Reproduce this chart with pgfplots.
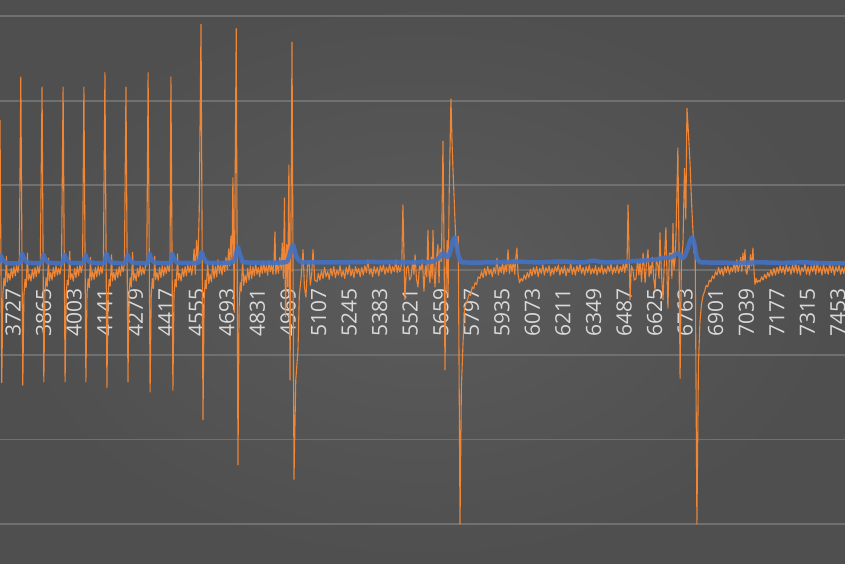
\documentclass[border=0pt]{standalone}
\usepackage{fontspec}
\setmainfont{Open Sans}
\usepackage{pgfplots}
\pgfplotsset{compat=1.18}
\definecolor{bgin}{RGB}{91,91,91}
\definecolor{bgout}{RGB}{79,79,79}
\definecolor{gridc}{RGB}{112,112,112}
\definecolor{labelc}{RGB}{217,217,217}
\definecolor{sigorange}{RGB}{238,134,54}
\definecolor{avgblue}{RGB}{68,114,196}
\begin{document}
\begin{tikzpicture}
\begin{axis}[
    name=ax,
    width=845pt, height=564pt, scale only axis,
    xmin=3668, xmax=7485,
    ymin=-3.471, ymax=3.188,
    axis x line=middle, axis y line=left,
    axis line style={draw=none},
    major tick length=0pt,
    xtick={3727,3865,4003,4141,4279,4417,4555,4693,4831,4969,5107,5245,5383,5521,5659,5797,5935,6073,6211,6349,6487,6625,6763,6901,7039,7177,7315,7453},
    xticklabels={3727,3865,4003,4141,4279,4417,4555,4693,4831,4969,5107,5245,5383,5521,5659,5797,5935,6073,6211,6349,6487,6625,6763,6901,7039,7177,7315,7453},
    xticklabel style={yshift=-18pt, rotate=90, anchor=east, inner sep=0pt,
        font=\fontsize{21}{21}\selectfont, text=labelc},
    ytick={-3,-2,-1,0,1,2,3},
    yticklabels={},
    ymajorgrids,
    grid style={draw=gridc, line width=1.8pt},
    axis background/.style={shade, inner color=bgin, outer color=bgout},
]
% raw signal
\addplot[sigorange, line width=1.1pt, line join=round] coordinates {
(3660,0.03) (3668,1.77) (3676,-1.33) (3681,-0.28) (3686,-0.10) (3691,-0.19) (3697,0.16) (3701,-0.14) (3707,-0.04) (3713,-0.12) (3719,0.02) (3725,-0.09) (3731,0.04) (3737,-0.07) (3743,0.06) (3749,-0.03) (3755,0.08)
(3762,2.28) (3771,-1.36) (3776,-0.30) (3781,-0.11) (3786,-0.21) (3792,0.20) (3796,-0.12) (3802,-0.05) (3808,-0.13) (3814,0.01) (3820,-0.10) (3826,0.03) (3832,-0.08) (3838,0.05) (3844,-0.04) (3850,0.07)
(3858,2.16) (3866,-1.32) (3871,-0.27) (3876,-0.09) (3881,-0.20) (3887,0.14) (3891,-0.13) (3897,-0.03) (3903,-0.12) (3909,0.03) (3915,-0.08) (3921,0.05) (3927,-0.06) (3933,0.02) (3939,-0.05) (3946,0.08)
(3953,2.16) (3962,-1.32) (3967,-0.29) (3972,-0.12) (3977,-0.18) (3983,0.22) (3987,-0.11) (3993,-0.04) (3999,-0.13) (4005,0.02) (4011,-0.09) (4017,0.04) (4023,-0.07) (4029,0.06) (4035,-0.03) (4041,0.07)
(4047,2.16) (4056,-1.32) (4061,-0.28) (4066,-0.10) (4071,-0.21) (4077,0.15) (4081,-0.12) (4087,-0.02) (4093,-0.11) (4099,0.03) (4105,-0.08) (4111,0.05) (4117,-0.06) (4123,0.04) (4129,-0.04) (4135,0.08)
(4142,2.33) (4151,-1.39) (4156,-0.30) (4161,-0.11) (4166,-0.19) (4172,0.18) (4176,-0.13) (4182,-0.03) (4188,-0.12) (4194,0.01) (4200,-0.09) (4206,0.04) (4212,-0.07) (4218,0.06) (4224,-0.02) (4230,0.07)
(4237,2.16) (4246,-1.32) (4251,-0.27) (4256,-0.09) (4261,-0.20) (4267,0.21) (4271,-0.12) (4277,-0.04) (4283,-0.13) (4289,0.02) (4295,-0.08) (4301,0.05) (4307,-0.06) (4313,0.03) (4319,-0.05) (4325,0.04) (4331,0.09)
(4337,2.33) (4346,-1.44) (4351,-0.31) (4356,-0.10) (4361,-0.22) (4367,0.16) (4371,-0.11) (4377,-0.03) (4383,-0.12) (4389,0.03) (4395,-0.09) (4401,0.05) (4407,-0.07) (4413,0.04) (4419,-0.04) (4425,0.06) (4432,-0.02) (4436,0.08)
(4440,2.28) (4449,-1.42) (4454,-0.29) (4459,-0.11) (4464,-0.20) (4470,0.19) (4474,-0.12) (4480,-0.04) (4486,-0.13) (4492,0.02) (4498,-0.08) (4504,0.04) (4510,-0.07) (4516,0.06) (4522,-0.03) (4528,0.05) (4534,-0.06) (4540,0.07) (4545,0.25) (4550,-0.05) (4556,0.35) (4562,0.10) (4568,0.70)
(4576,2.90) (4585,-1.77) (4590,-0.35) (4595,-0.12) (4600,-0.22) (4606,0.10) (4611,-0.16) (4617,-0.05) (4623,-0.14) (4629,0.08) (4635,-0.10) (4641,0.04) (4647,-0.08) (4653,0.12) (4659,-0.04) (4665,0.06) (4671,-0.06) (4677,0.10) (4683,-0.02) (4689,0.15) (4695,0.00) (4701,0.25) (4706,0.05) (4711,0.40) (4716,0.10) (4720,1.09) (4726,-0.50)
(4735,2.85) (4743,-2.30) (4748,-0.45) (4753,-0.15) (4758,-0.25) (4764,0.12) (4769,-0.18) (4775,-0.06) (4781,-0.15) (4787,0.02) (4793,-0.12) (4799,0.05) (4805,-0.10) (4811,0.04) (4817,-0.07) (4823,0.07) (4829,-0.05) (4835,0.03) (4841,-0.08) (4847,0.06) (4853,-0.04) (4859,0.09) (4865,-0.03) (4871,0.05) (4877,-0.06) (4883,0.10) (4889,-0.02) (4895,0.06) (4901,-0.05) (4906,0.12) (4910,0.45) (4914,-0.05) (4920,0.08) (4926,-0.04) (4932,0.15) (4938,0.00) (4943,0.32) (4948,-0.10) (4953,0.85) (4958,-0.55) (4963,0.30) (4968,-0.20) (4973,1.24) (4978,-1.30) (4982,0.35)
(4987,2.69) (4996,-2.47) (5004,-1.30) (5014,-0.95) (5020,-0.30) (5028,-0.10) (5037,0.24) (5043,-0.20) (5050,-0.32) (5057,0.05) (5064,0.10) (5070,-0.18) (5076,-0.05) (5082,0.24) (5090,-0.12) (5100,-0.14)
(5106,-0.04) (5113,-0.12) (5120,-0.01) (5127,-0.10) (5134,0.03) (5141,-0.08) (5148,-0.02) (5155,-0.11) (5162,0.02) (5169,-0.07) (5176,0.04) (5183,-0.09) (5190,0.00) (5197,-0.06) (5204,0.05) (5211,-0.08) (5218,-0.01) (5225,-0.10) (5232,0.03) (5239,-0.05) (5246,0.06) (5253,-0.07) (5260,0.01) (5267,-0.09) (5274,0.04) (5281,-0.04) (5288,0.02) (5295,-0.08) (5302,0.03) (5309,-0.06) (5316,0.05) (5323,-0.03) (5330,0.12) (5337,-0.05) (5344,0.02) (5351,-0.08) (5358,0.04) (5365,-0.04) (5372,0.03) (5379,-0.07) (5386,0.05) (5393,-0.02) (5400,0.06) (5407,-0.05) (5414,0.03) (5421,-0.03) (5428,0.07) (5435,-0.04) (5442,0.04) (5449,-0.02) (5456,0.12) (5462,-0.03) (5468,0.05) (5474,-0.02) (5479,0.03)
(5483,0.10) (5488,0.77) (5497,-0.35) (5504,0.02) (5511,0.05) (5518,-0.12) (5525,-0.08) (5532,0.10) (5538,-0.05) (5543,0.18) (5549,-0.10) (5556,-0.20) (5563,0.05) (5570,0.00) (5576,0.12) (5583,-0.25) (5590,0.05) (5596,-0.08) (5601,0.47) (5606,-0.05) (5610,-0.15) (5616,0.15) (5620,-0.10) (5624,0.47) (5629,-0.05) (5633,-0.20) (5640,0.15) (5646,0.30) (5651,-0.15) (5656,0.25) (5662,0.10) (5669,1.52) (5674,0.20) (5678,-1.18) (5684,0.05) (5688,0.35) (5692,-0.30) (5697,0.90) (5705,2.02) (5710,1.50) (5714,1.20) (5718,0.94) (5723,0.60) (5730,0.20) (5738,0.40) (5746,-3.00) (5752,-1.40) (5759,-0.90) (5766,-0.45) (5773,-0.40) (5780,-0.35) (5787,-0.28) (5794,-0.30) (5801,-0.20) (5808,-0.22) (5814,-0.15) (5821,-0.17) (5828,-0.08) (5836,-0.10)
(5843,-0.02) (5850,-0.09) (5857,0.02) (5864,-0.07) (5871,0.04) (5878,-0.05) (5885,0.01) (5892,-0.08) (5899,0.03) (5906,-0.04) (5913,0.14) (5919,-0.06) (5926,0.04) (5932,-0.03) (5938,0.10) (5944,-0.05) (5950,0.06) (5956,-0.02) (5963,0.24) (5969,-0.04) (5975,0.08) (5981,-0.02) (5987,0.12) (5993,-0.05) (5998,0.15) (6003,0.26) (6008,-0.05) (6015,-0.15) (6022,-0.10) (6029,-0.13) (6036,-0.06) (6043,-0.11) (6050,-0.03) (6057,-0.09) (6064,0.01) (6071,-0.07) (6078,0.03) (6085,-0.05) (6092,0.04) (6099,-0.08) (6106,0.02) (6113,-0.04) (6120,0.06) (6127,-0.06) (6134,0.03) (6141,-0.03) (6148,0.05) (6155,-0.07) (6162,0.02) (6169,-0.05) (6176,0.04) (6183,-0.02) (6190,0.06) (6197,-0.06) (6204,0.03) (6211,-0.04) (6218,0.05) (6225,-0.07) (6232,0.02) (6239,-0.03) (6246,0.08) (6253,-0.05) (6260,0.03) (6267,-0.06) (6274,0.05) (6281,-0.02) (6288,0.07) (6295,-0.04) (6302,0.03) (6309,-0.06) (6316,0.04) (6323,-0.03) (6330,0.06) (6337,-0.05) (6344,0.02) (6351,-0.04) (6358,0.05) (6365,-0.06) (6372,0.03) (6379,-0.03) (6386,0.06) (6393,-0.05) (6400,0.02) (6407,-0.04) (6414,0.05) (6421,-0.02) (6428,0.07) (6435,-0.05) (6442,0.03) (6449,-0.03) (6456,0.06) (6463,-0.04) (6470,0.04) (6477,-0.02) (6484,0.08) (6490,-0.03) (6496,0.10) (6500,0.02)
(6505,0.77) (6514,-0.35) (6520,0.05) (6527,0.00) (6533,-0.12) (6541,-0.10) (6548,0.12) (6554,-0.06) (6559,0.10) (6566,-0.14) (6573,0.20) (6578,0.02) (6582,-0.15) (6588,0.08) (6595,0.24) (6600,-0.08) (6605,0.05) (6609,-0.05) (6615,0.15) (6621,-0.10) (6627,-0.24) (6633,0.12) (6640,0.05) (6645,-0.10) (6649,0.44) (6655,0.00) (6663,-0.35) (6669,0.10) (6676,0.50) (6680,0.05) (6685,-0.45) (6692,0.20) (6699,0.20) (6703,-0.10) (6708,0.55) (6712,0.00) (6717,0.10) (6722,0.45) (6730,1.44) (6735,0.30) (6740,-1.28) (6746,0.10) (6753,0.30) (6760,1.20) (6766,0.60) (6771,1.91) (6776,1.70) (6780,1.50) (6785,1.26) (6792,0.79) (6798,0.47) (6803,0.20) (6808,0.30) (6816,-3.00) (6823,-1.10) (6830,-0.60) (6837,-0.40) (6844,-0.30) (6851,-0.25) (6858,-0.18) (6865,-0.20) (6872,-0.12) (6879,-0.14) (6886,-0.07) (6893,-0.10) (6900,-0.02)
(6907,-0.06) (6914,0.03) (6921,-0.05) (6928,0.02) (6935,-0.07) (6942,0.04) (6949,-0.03) (6956,0.05) (6963,-0.05) (6970,0.03) (6977,-0.02) (6984,0.08) (6990,-0.03) (6996,0.12) (7002,-0.02) (7008,0.05) (7014,0.15) (7019,-0.02) (7024,0.20) (7029,0.05) (7033,0.24) (7038,-0.02) (7042,-0.05) (7048,0.08) (7053,0.02) (7058,0.18) (7064,0.05) (7069,0.26) (7074,0.00) (7078,-0.17) (7084,-0.10) (7088,-0.15) (7095,-0.12) (7101,-0.14) (7108,-0.08) (7115,-0.12) (7122,-0.05) (7129,-0.10) (7136,-0.03) (7143,-0.08) (7150,0.00) (7157,-0.07) (7164,0.02) (7171,-0.06) (7178,0.03) (7185,-0.04) (7192,0.05) (7199,-0.03) (7206,0.04) (7213,-0.05) (7220,0.06) (7227,-0.02) (7234,0.04) (7241,-0.05) (7248,0.06) (7255,-0.03) (7262,0.08) (7269,-0.04) (7276,0.05) (7283,-0.06) (7290,0.03) (7297,-0.02) (7304,0.07) (7311,-0.05) (7318,0.04) (7325,-0.06) (7332,0.05) (7339,-0.02) (7346,0.06) (7353,-0.05) (7360,0.09) (7367,-0.03) (7374,0.04) (7381,-0.06) (7388,0.07) (7395,-0.04) (7402,0.03) (7409,-0.05) (7416,0.08) (7423,-0.03) (7430,0.05) (7437,-0.06) (7444,0.04) (7451,-0.02) (7458,0.06) (7465,-0.05) (7472,0.03) (7479,-0.04) (7486,0.05) (7492,-0.02)
};
% smoothed envelope
\addplot[avgblue, line width=4.5pt, opacity=0.9, smooth, tension=0.4, line join=round] coordinates {
(3660,0.09) (3668,0.12) (3672,0.17) (3680,0.12) (3690,0.095) (3705,0.08) (3755,0.08)
(3762,0.10) (3768,0.19) (3775,0.14) (3785,0.10) (3800,0.085) (3850,0.08)
(3858,0.10) (3864,0.18) (3871,0.13) (3881,0.10) (3896,0.085) (3945,0.08)
(3953,0.10) (3959,0.18) (3966,0.13) (3976,0.10) (3991,0.085) (4040,0.08)
(4047,0.10) (4053,0.18) (4060,0.13) (4070,0.10) (4085,0.085) (4135,0.08)
(4142,0.10) (4148,0.19) (4155,0.14) (4165,0.10) (4180,0.085) (4230,0.08)
(4237,0.10) (4243,0.18) (4250,0.13) (4260,0.10) (4275,0.085) (4330,0.08)
(4337,0.10) (4343,0.19) (4350,0.14) (4360,0.10) (4375,0.085) (4432,0.08)
(4440,0.10) (4446,0.19) (4453,0.14) (4463,0.10) (4478,0.085) (4560,0.085)
(4570,0.12) (4578,0.21) (4586,0.16) (4596,0.11) (4612,0.085) (4715,0.09)
(4730,0.14) (4742,0.27) (4750,0.20) (4760,0.13) (4774,0.09) (4950,0.09)
(4970,0.13) (4982,0.24) (4992,0.30) (5000,0.22) (5010,0.14) (5025,0.10) (5045,0.09)
(5200,0.09) (5350,0.095) (5500,0.09) (5610,0.095)
(5630,0.11) (5650,0.14) (5665,0.19) (5675,0.20) (5686,0.15) (5696,0.17) (5706,0.26) (5715,0.36) (5722,0.38) (5730,0.30) (5738,0.18) (5746,0.12) (5760,0.09)
(5900,0.09) (6000,0.10) (6100,0.09) (6200,0.10) (6300,0.09) (6350,0.11) (6400,0.09) (6500,0.10)
(6560,0.11) (6620,0.12) (6660,0.14) (6700,0.15) (6722,0.19) (6732,0.20) (6748,0.14) (6760,0.16) (6775,0.26) (6787,0.36) (6796,0.38) (6805,0.30) (6815,0.15) (6828,0.10) (6840,0.09)
(7000,0.085) (7100,0.09) (7200,0.085) (7300,0.09) (7400,0.08) (7492,0.08)
};
\end{axis}
\pgfresetboundingbox
\useasboundingbox (ax.south west) rectangle (ax.north east);
\end{tikzpicture}
\end{document}
